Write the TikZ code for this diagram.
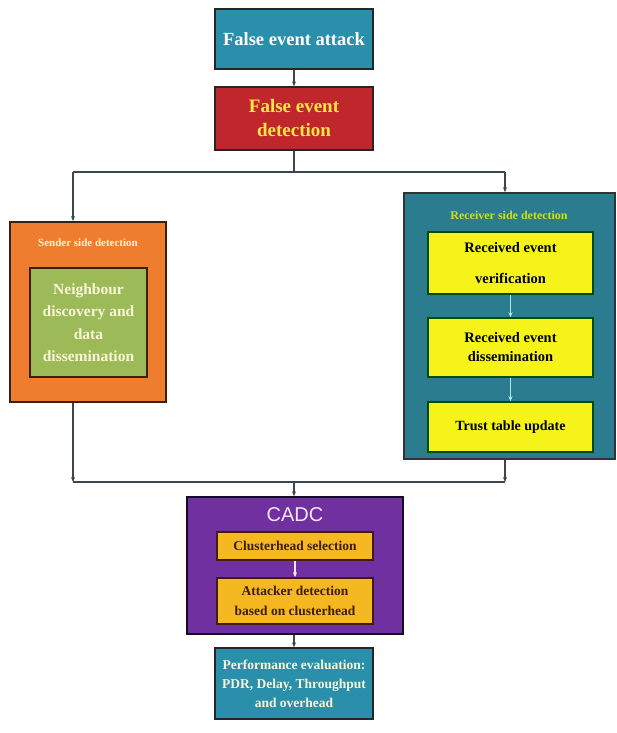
\documentclass[tikz,border=0pt]{standalone}
\usepackage{fontspec}
\setmainfont{Liberation Serif}
\newfontfamily\cadcfont{Liberation Sans}
\usetikzlibrary{arrows.meta}
\definecolor{tealA}{RGB}{42,143,170}
\definecolor{redB}{RGB}{192,39,45}
\definecolor{orangeS}{RGB}{238,125,47}
\definecolor{greenS}{RGB}{156,187,88}
\definecolor{tealR}{RGB}{43,124,143}
\definecolor{yellowR}{RGB}{245,243,26}
\definecolor{purpleC}{RGB}{112,48,160}
\definecolor{goldC}{RGB}{245,184,32}
\definecolor{lineC}{RGB}{60,70,80}
\definecolor{txtY}{RGB}{255,230,70}
\definecolor{cream}{RGB}{250,245,215}
\definecolor{lav}{RGB}{245,230,255}
\definecolor{cyanA}{RGB}{175,232,240}
\definecolor{brownT}{RGB}{60,30,10}
\tikzset{
  box/.style={draw=black!85, line width=1.3pt, align=center, inner sep=0pt},
  conn/.style={draw=lineC, line width=1.1pt},
  arr/.style={conn, -{Stealth[length=5pt,width=4pt]}},
  inarr/.style={draw=#1, line width=1.6pt, -{Stealth[length=5pt,width=4pt]}},
}
\begin{document}
\begin{tikzpicture}[x=1pt,y=-1pt]
\useasboundingbox[fill=white] (0,0) rectangle (616,733);

% top boxes
\node[box, fill=tealA, minimum width=158pt, minimum height=60pt, text=white,
  font=\bfseries\fontsize{18.5}{20}\selectfont] (attack) at (294,39) {False event attack};
\node[box, fill=redB, minimum width=158pt, minimum height=63pt, text=txtY,
  font=\bfseries\fontsize{19}{24}\selectfont] (detect) at (294,118.5) {False event\\detection};
\draw[arr] (attack) -- (detect);

% sender side
\node[box, draw=brownT, line width=2pt, fill=orangeS, minimum width=156pt, minimum height=180pt] (sender) at (88,312) {};
\node[text=cream, font=\bfseries\fontsize{11}{12}\selectfont] (stitle) at (88,243) {Sender side detection};
\node[box, draw=brownT, line width=2pt, fill=greenS, minimum width=117pt, minimum height=109pt, text=cream,
  font=\bfseries\fontsize{15.5}{22.5}\selectfont] (neigh) at (88.5,322.5) {Neighbour\\discovery and\\data\\dissemination};

% receiver side
\node[box, draw=black!80, line width=1.5pt, fill=tealR, minimum width=211pt, minimum height=266pt] (receiver) at (509.5,326) {};
\node[text=yellow!80!green, font=\bfseries\fontsize{12}{13}\selectfont] (rtitle) at (509,215) {Receiver side detection};
\node[box, draw=black!70!green, line width=1.5pt, fill=yellowR, minimum width=165pt, minimum height=62pt,
  font=\bfseries\fontsize{14.5}{31}\selectfont] (rv) at (510.5,263) {Received event\\verification};
\node[box, draw=black!70!green, line width=1.5pt, fill=yellowR, minimum width=165pt, minimum height=59pt,
  font=\bfseries\fontsize{14.5}{19}\selectfont] (rd) at (510.5,347.5) {Received event\\dissemination};
\node[box, draw=black!70!green, line width=1.5pt, fill=yellowR, minimum width=165pt, minimum height=50pt,
  font=\bfseries\fontsize{14}{16}\selectfont] (tt) at (510.5,427) {Trust table update};
\draw[inarr=cyanA] (rv) -- (rd);
\draw[inarr=cyanA] (rd) -- (tt);

% junction lines
\coordinate (jt) at (294,172);
\coordinate (jtl) at (73,172);
\coordinate (jtr) at (505,172);
\draw[conn] (detect.south) -- (jt);
\draw[conn] (jtl) -- (jtr);
\draw[arr] (jtl) -- (jtl |- sender.north);
\draw[arr] (jtr) -- (jtr |- receiver.north);

\coordinate (jb) at (294,482);
\coordinate (jbl) at (73,482);
\coordinate (jbr) at (505,482);
\draw[arr] (jbl |- sender.south) -- (jbl);
\draw[arr] (jbr |- receiver.south) -- (jbr);
\draw[conn] (jbl) -- (jbr);

% CADC
\node[box, draw=black!80!purpleC, line width=1.5pt, fill=purpleC, minimum width=216pt, minimum height=137pt] (cadc) at (295,565.5) {};
\draw[arr] (jb) -- (jb |- cadc.north);
\node[text=lav, font=\cadcfont\fontsize{20}{22}\selectfont] (ctitle) at (295,515) {CADC};
\node[box, draw=brownT, line width=1.5pt, fill=goldC, minimum width=156pt, minimum height=28pt, text=brownT,
  font=\bfseries\fontsize{13.5}{15}\selectfont] (ch) at (295,546) {Clusterhead selection};
\node[box, draw=brownT, line width=1.5pt, fill=goldC, minimum width=156pt, minimum height=46pt, text=brownT,
  font=\bfseries\fontsize{13.5}{20}\selectfont] (ad) at (295,601) {Attacker detection\\based on clusterhead};
\draw[inarr=lav] (ch) -- (ad);

% performance
\node[box, fill=tealA, minimum width=158pt, minimum height=71pt, text=cream,
  font=\bfseries\fontsize{13.5}{19}\selectfont] (perf) at (294,683.5) {Performance evaluation:\\PDR, Delay, Throughput\\and overhead};
\draw[arr] (cadc.south -| perf.north) -- (perf.north);
\end{tikzpicture}
\end{document}
